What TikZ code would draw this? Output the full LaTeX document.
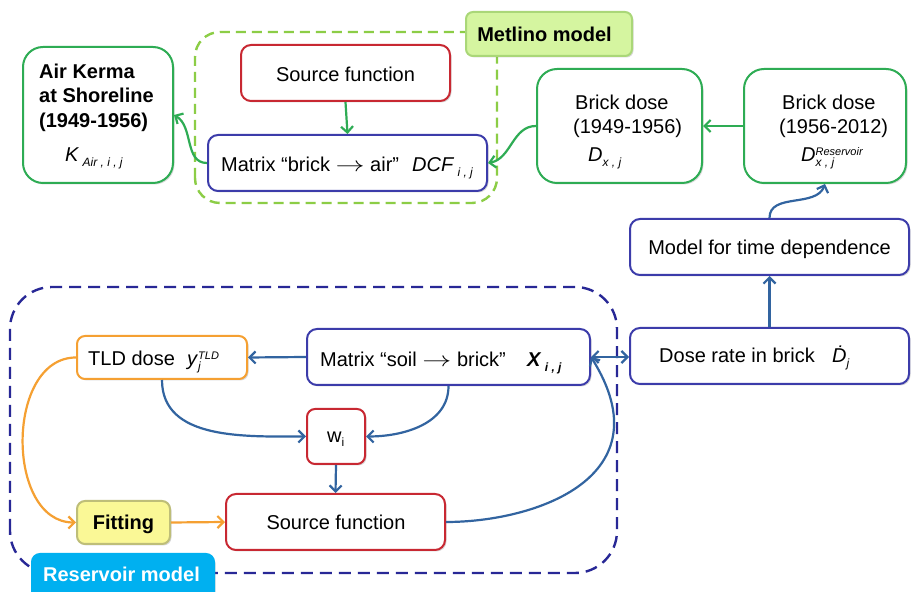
\documentclass[tikz,border=0pt]{standalone}
\usepackage{fontspec}
\setmainfont{Liberation Sans}
\usetikzlibrary{arrows.meta,shadows}
\definecolor{cgreen}{RGB}{46,172,84}
\definecolor{clgreen}{RGB}{140,205,70}
\definecolor{clabg}{RGB}{213,245,160}
\definecolor{clabgb}{RGB}{170,215,120}
\definecolor{cblue}{RGB}{60,60,170}
\definecolor{carrow}{RGB}{50,100,160}
\definecolor{cred}{RGB}{200,40,50}
\definecolor{corange}{RGB}{245,160,50}
\definecolor{cyellow}{RGB}{250,248,150}
\definecolor{cyellowb}{RGB}{190,190,120}
\definecolor{cdash}{RGB}{40,40,150}
\definecolor{ccyan}{RGB}{0,176,240}
\newcommand\lowsub[1]{\raisebox{-4.5pt}{\fontsize{12}{12}\selectfont\itshape #1}}
\newcommand\supsub[2]{\raisebox{-4.5pt}{\shortstack[l]{\fontsize{11}{11}\selectfont\itshape #1\\[-1pt]\fontsize{12}{12}\selectfont\itshape #2}}}
\newcommand\marrow{\scalebox{1.4}[1]{$\rightarrow$}}
\begin{document}
\begin{tikzpicture}[x=1pt,y=1pt,
  >={Straight Barb[length=6pt,width=12pt]},
  box/.style={draw, line width=2pt, fill=white, inner sep=0pt,
    drop shadow={shadow xshift=1.5pt,shadow yshift=-1.5pt,opacity=0.3}},
  gbox/.style={box, draw=cgreen, rounded corners=20pt},
  bbox/.style={box, draw=cblue, rounded corners=10pt},
  rbox/.style={box, draw=cred, rounded corners=10pt},
  txt/.style={inner sep=0pt, font=\fontsize{20}{24}\selectfont},
  btxt/.style={txt, font=\fontsize{20}{24}\selectfont\bfseries},
  garr/.style={draw=cgreen, line width=2.2pt, ->},
  barr/.style={draw=carrow, line width=2.2pt, ->},
  oarr/.style={draw=corange, line width=2.2pt, ->}]
\useasboundingbox (0,0) rectangle (914,592);
\fill[white] (0,0) rectangle (914,592);

% containers
\draw[clgreen, line width=2.4pt, dash pattern=on 10pt off 6pt, rounded corners=25pt]
  (195,389) rectangle (497,560);
\draw[cdash, line width=2.4pt, dash pattern=on 12pt off 7pt, rounded corners=42pt]
  (10,19) rectangle (617,305);

% boxes
\node[gbox, minimum width=150, minimum height=136] (ak) at (98,477) {};
\node[rbox, minimum width=209, minimum height=56] (sf1) at (345.5,519) {};
\node[bbox, minimum width=279, minimum height=56] (mx1) at (347.5,429) {};
\node[gbox, minimum width=165, minimum height=114] (bd1) at (619.5,466) {};
\node[gbox, minimum width=162, minimum height=114] (bd2) at (825,466) {};
\node[bbox, minimum width=279, minimum height=56] (mt) at (769.5,345) {};
\node[bbox, minimum width=279, minimum height=56] (dr) at (769.5,236) {};
\node[bbox, minimum width=283, minimum height=56] (mx2) at (448.5,235) {};
\node[box, draw=corange, rounded corners=8pt, minimum width=170, minimum height=43] (tld) at (162,234.5) {};
\node[box, draw=cred, rounded corners=8pt, minimum width=58, minimum height=55] (w) at (336,155.5) {};
\node[box, draw=cyellowb, fill=cyellow, rounded corners=8pt, minimum width=93, minimum height=43] (fit) at (123.5,69.5) {};
\node[rbox, minimum width=219, minimum height=56] (sf2) at (335.5,70) {};
\node[box, draw=clabgb, fill=clabg, rounded corners=7pt, minimum width=166, minimum height=44] (mlab) at (549,558) {};
\begin{scope}
\clip (0,0) rectangle (914,592);
\node[box, draw=ccyan, fill=ccyan, rounded corners=8pt, minimum width=182, minimum height=60, anchor=north] (rlab) at (123,39) {};
\end{scope}

% texts
\node[btxt, anchor=base west] (ak1) at (39,513) {Air Kerma};
\node[btxt, anchor=base west] (ak2) at (39,489) {at Shoreline};
\node[btxt, anchor=base west] (ak3) at (39,464) {(1949-1956)};
\node[txt, anchor=base west] (ak4) at (65,430) {\textit{K}\,\lowsub{Air , i , j}};
\node[txt] (sf1t) at (345.5,518) {Source function};
\node[txt, anchor=base west] (mx1a) at (221,420) {Matrix “brick \marrow{} air”};
\node[txt, anchor=base west] (mx1b) at (412,420) {\textit{DCF}\,\lowsub{i , j}};
\node[txt, anchor=base west] (bd1a) at (575,482) {Brick dose};
\node[txt, anchor=base west] (bd1b) at (573,458) {(1949-1956)};
\node[txt, anchor=base west] (bd1c) at (588,430) {\textit{D}\lowsub{x , j}};
\node[txt, anchor=base west] (bd2a) at (782,482) {Brick dose};
\node[txt, anchor=base west] (bd2b) at (779,458) {(1956-2012)};
\node[txt, anchor=base west] (bd2c) at (801,430) {\textit{D}\supsub{Reservoir}{x , j}};
\node[txt, anchor=base] (mtt) at (769.5,337) {Model for time dependence};
\node[txt, anchor=base west] (dra) at (659,229) {Dose rate in brick};
\node[txt, anchor=base west] (drb) at (832,229) {\textit{\.{D}}\lowsub{j}};
\node[txt, anchor=base west] (mx2a) at (320,225) {Matrix “soil \marrow{} brick”};
\node[txt, anchor=base west] (mx2b) at (527,225) {\textbf{\textit{X}}\,\lowsub{\bfseries i , j}};
\node[txt, anchor=base west] (tlda) at (88,226) {TLD dose};
\node[txt, anchor=base west] (tldb) at (187,226) {\textit{y}\supsub{TLD}{j}};
\node[txt, anchor=base west] (wt) at (327,149) {w\raisebox{-4pt}{\fontsize{12}{12}\selectfont i}};
\node[btxt, anchor=base] (fitt) at (123.5,62) {Fitting};
\node[txt, anchor=base] (sf2t) at (336,62) {Source function};
\node[btxt, anchor=base] (mlabt) at (544.5,550) {Metlino model};
\node[btxt, anchor=base, text=white] (rlabt) at (121.5,10) {Reservoir model};

% connectors
\draw[garr] (sf1.south) -- (mx1.north);
\draw[garr] (mx1.west) to[out=180,in=-30] (ak.east);
\draw[garr] (bd1.west) to[out=180,in=10] (mx1.east);
\draw[garr] (bd2.west) -- (bd1.east);
\draw[barr] (mt.north) to[out=90,in=-110] (bd2.south);
\draw[barr] (dr.north) -- (mt.south);
\draw[barr, <->] (mx2.east) -- (mx2.east -| dr.west);
\draw[barr] (mx2.west) -- (tld.east);
\draw[barr] (tld.south) to[out=-90,in=180] (w.west);
\draw[barr] (mx2.south) to[out=-90,in=0] (w.east);
\draw[barr] (w.south) -- (sf2.north);
\draw[oarr] (fit.east) -- (sf2.west);
\draw[oarr] (tld.west) to[out=180,in=180,looseness=1.1] (fit.west);
\draw[barr] (sf2.east) .. controls +(90,0) and +(75,-120) .. (mx2.east);
\end{tikzpicture}
\end{document}
